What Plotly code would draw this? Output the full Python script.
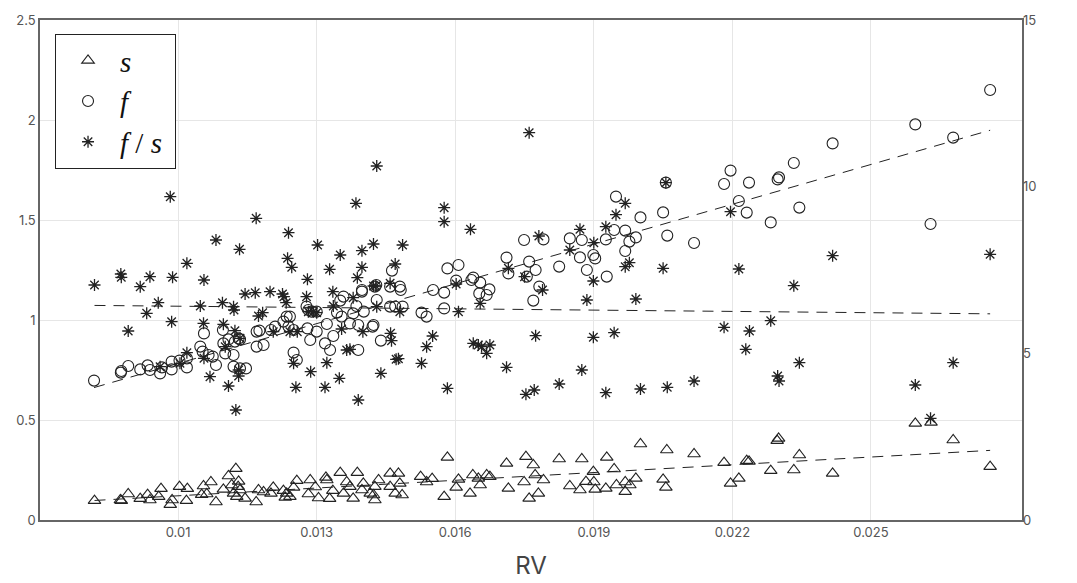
import numpy as np
import plotly.graph_objects as go

# ---- data ----
s_x = [0.00819,0.00875,0.00877,0.00892,0.00918,0.00934,0.00939,0.00958,0.00963,0.00983,0.00987,0.01003,0.0102,0.01018,
       0.01055,0.01071,0.01051,0.01062,0.01082,0.01098,0.01109,0.01125,0.01131,0.0112,0.01134,0.01127,0.01145,0.01116,0.0113,
       0.01169,0.01174,0.01185,0.01206,0.01201,0.01228,0.01235,0.01242,0.0125,0.01257,0.01232,
       0.01286,0.01282,0.01297,0.01304,0.0132,0.01322,0.01328,0.01335,0.01351,0.01358,0.01365,0.01372,0.01379,0.01388,
       0.01398,0.01401,0.01416,0.01426,0.01434,0.01423,0.01426,0.01459,0.01459,0.0147,0.01477,0.0148,0.01485,
       0.01525,0.01538,0.0155,0.01583,0.01576,0.01602,0.01607,0.01632,0.01638,0.0165,0.01654,0.01668,0.01675,
       0.01711,0.01715,0.01749,0.01753,0.01769,0.01773,0.01791,0.0176,0.0178,0.01825,0.01848,0.0187,0.01874,0.01883,
       0.01899,0.019,0.01903,0.01926,0.01928,0.01944,0.01949,0.01968,0.01968,0.01978,0.01991,0.02001,0.0205,0.02056,0.02058,
       0.02117,0.02182,0.02196,0.02214,0.02231,0.02236,0.02283,0.02297,0.023,0.02333,0.02345,0.02417,0.02596,0.0263,0.02678,0.02758]
s_y = [0.097,0.10,0.097,0.13,0.107,0.127,0.10,0.117,0.157,0.077,0.10,0.167,0.157,0.097,
       0.17,0.19,0.127,0.13,0.09,0.153,0.22,0.257,0.193,0.133,0.15,0.117,0.108,0.175,0.167,
       0.09,0.15,0.14,0.163,0.133,0.147,0.133,0.117,0.163,0.197,0.113,
       0.2,0.13,0.165,0.11,0.213,0.2,0.107,0.147,0.237,0.133,0.19,0.167,0.108,0.237,
       0.15,0.183,0.133,0.10,0.2,0.125,0.167,0.233,0.167,0.133,0.233,0.183,0.125,
       0.217,0.19,0.207,0.313,0.117,0.163,0.203,0.133,0.225,0.208,0.175,0.225,0.217,
       0.283,0.158,0.19,0.317,0.275,0.225,0.2,0.108,0.133,0.305,0.17,0.15,0.305,0.192,
       0.242,0.19,0.153,0.158,0.313,0.255,0.175,0.19,0.142,0.175,0.208,0.38,0.203,0.163,0.35,
       0.33,0.287,0.183,0.208,0.297,0.293,0.247,0.397,0.408,0.25,0.325,0.233,0.483,0.488,0.40,0.267]

f_x = [0.00818,0.00876,0.00877,0.00892,0.00918,0.00934,0.00939,0.00961,0.00965,0.00986,0.00986,0.01003,0.01019,0.01019,
       0.01048,0.01056,0.01053,0.01066,0.01075,0.01082,0.01097,0.01098,0.01102,0.01109,0.0112,0.01123,0.01131,0.01134,
       0.0112,0.01134,0.01147,0.0117,0.01176,0.0117,0.01185,0.01201,0.0121,0.01228,0.01235,0.01242,0.01239,0.0125,
       0.0125,0.01257,0.0128,0.01286,0.013,0.01322,0.01318,0.01329,0.01336,0.01344,0.01351,0.01278,0.01282,0.01289,0.013,
       0.01354,0.01358,0.01372,0.01379,0.01386,0.0139,0.01398,0.01398,0.01402,0.0139,0.01421,0.01423,0.0143,0.01429,0.01426,
       0.01439,0.01459,0.01463,0.01459,0.0147,0.0148,0.01482,0.01486,0.01527,0.01538,0.01552,0.01576,0.01576,0.01583,
       0.01607,0.01602,0.01635,0.01639,0.01654,0.01652,0.01668,0.01674,0.01711,0.01715,0.01749,0.0176,0.01755,0.01769,
       0.01774,0.01782,0.01791,0.01825,0.01848,0.01874,0.0187,0.01885,0.01899,0.01903,0.01926,0.01928,0.01948,0.01944,
       0.01968,0.01977,0.01968,0.01991,0.02001,0.0205,0.02056,0.02059,0.02117,0.02182,0.02196,0.02214,0.02236,0.02231,
       0.02283,0.02298,0.02301,0.02333,0.02345,0.02417,0.02596,0.02629,0.02678,0.02758]
f_y = [0.697,0.737,0.745,0.77,0.753,0.773,0.75,0.733,0.763,0.792,0.753,0.797,0.808,0.763,
       0.867,0.933,0.842,0.825,0.817,0.775,0.95,0.883,0.833,0.903,0.825,0.892,0.908,0.903,
       0.767,0.758,0.758,0.942,0.947,0.867,0.875,0.95,0.967,0.992,1.017,1.017,0.967,0.95,
       0.837,0.80,0.958,0.90,0.942,0.98,0.883,0.85,0.92,1.037,1.097,1.067,1.05,1.042,1.042,
       1.017,1.117,0.983,1.033,1.07,0.975,1.15,1.142,1.042,0.85,0.967,0.975,1.10,1.175,1.167,
       0.897,1.167,1.247,1.067,1.067,1.167,1.15,1.067,1.037,1.017,1.15,1.137,1.058,1.258,
       1.275,1.197,1.20,1.212,1.187,1.133,1.125,1.153,1.312,1.233,1.40,1.292,1.217,1.097,
       1.25,1.167,1.403,1.267,1.408,1.40,1.313,1.25,1.325,1.308,1.403,1.217,1.617,1.45,
       1.447,1.392,1.345,1.413,1.513,1.538,1.687,1.422,1.385,1.68,1.747,1.595,1.687,1.537,
       1.488,1.703,1.713,1.785,1.562,1.883,1.978,1.48,1.912,2.15]

fs_x = [0.00819,0.00876,0.00877,0.00918,0.00939,0.00932,0.00892,0.00957,0.00983,0.00988,0.00986,0.01019,0.01019,0.01004,
        0.00961,0.01048,0.01056,0.01055,0.01056,0.01069,0.01082,0.01096,0.01098,0.01102,0.01109,0.0112,0.01121,0.01123,
        0.01134,0.01133,0.01131,0.01131,0.01125,0.01145,0.01169,0.01167,0.01174,0.01183,0.01199,0.01206,0.01226,0.01229,
        0.01234,0.01237,0.01246,0.01239,0.01242,0.01258,0.0125,0.01255,0.0128,0.01278,0.01282,0.01293,0.013,0.01287,
        0.01302,0.01318,0.01322,0.01328,0.01335,0.01336,0.01349,0.01351,0.0143,0.01385,0.01398,0.01423,0.01486,0.01398,
        0.0147,0.01388,0.01423,0.01428,0.01459,0.01379,0.0143,0.0148,0.01354,0.014,0.0146,0.01462,0.01365,0.01372,
        0.01472,0.01477,0.01439,0.0139,0.01527,0.01538,0.01551,0.01583,0.01576,0.01576,0.01602,0.01607,0.01633,0.01654,
        0.01639,0.0165,0.01657,0.01675,0.01668,0.01715,0.0176,0.01711,0.0175,0.01781,0.01789,0.01753,0.01771,0.01774,
        0.01825,0.01848,0.0187,0.01885,0.019,0.01899,0.01899,0.01874,0.01926,0.01926,0.01968,0.01948,0.01968,0.01977,
        0.0205,0.02056,0.01991,0.01944,0.02001,0.02059,0.02117,0.02196,0.02214,0.02182,0.02237,0.02229,0.02283,0.02298,
        0.02301,0.02333,0.02345,0.02417,0.02596,0.02629,0.02678,0.02758]
fs_y = [7.05,7.38,7.28,7.0,7.3,6.2,5.67,6.52,9.7,7.28,5.95,7.7,5.02,4.7,
        4.6,6.42,7.2,5.9,4.85,4.3,8.4,6.52,5.87,5.2,4.02,6.4,6.3,5.68,
        5.45,8.12,4.5,4.32,3.3,6.78,9.05,6.82,6.12,6.22,6.85,5.65,6.78,6.7,
        6.52,7.85,7.58,8.62,5.65,5.65,4.7,3.98,7.22,6.7,6.25,6.25,6.22,4.45,
        8.25,3.98,4.72,7.52,6.85,6.42,4.25,7.95,10.62,9.5,8.08,8.28,8.25,7.58,
        7.68,7.27,7.02,7.02,7.1,6.67,6.4,6.25,5.73,5.65,5.6,5.38,5.1,5.12,
        4.82,4.84,4.4,3.6,4.7,5.2,5.52,3.95,9.37,8.95,7.08,6.25,8.72,6.5,
        5.3,5.25,5.2,5.25,5.0,7.55,11.62,4.58,7.3,8.52,6.9,3.77,3.9,5.53,
        4.08,8.1,8.72,6.6,8.32,7.17,5.48,4.5,8.8,3.82,9.5,9.16,7.6,7.72,
        7.55,10.12,6.63,5.62,3.93,3.98,4.17,9.25,7.53,5.78,5.67,5.12,5.98,4.32,
        4.17,7.03,4.72,7.93,4.05,3.05,4.72,7.97]

x_ticks = [0.01, 0.013, 0.016, 0.019, 0.022, 0.025]
x_tick_labels = ["0.01", "0.013", "0.016", "0.019", "0.022", "0.025"]
y_ticks = [0, 0.5, 1, 1.5, 2, 2.5]
y_tick_labels = ["0", "0.5", "1", "1.5", "2", "2.5"]
y2_ticks = [0, 5, 10, 15]

INK = "#222222"

def trend(xs, ys):
    xs = np.asarray(xs); ys = np.asarray(ys)
    k, b = np.polyfit(xs, ys, 1)
    xe = np.array([xs.min(), xs.max()])
    return xe, k * xe + b

fig = go.Figure()

dash = "11px,8px"
for xs, ys, axis in [(s_x, s_y, "y"), (f_x, f_y, "y"), (fs_x, fs_y, "y2")]:
    xe, ye = trend(xs, ys)
    fig.add_trace(go.Scatter(x=xe, y=ye, mode="lines", yaxis=axis, showlegend=False,
                             line=dict(color=INK, width=1, dash=dash), hoverinfo="skip"))

fig.add_trace(go.Scatter(x=s_x, y=s_y, mode="markers", name="<i>s</i>", legendgroup="s",
                         marker=dict(symbol="triangle-up-open", size=11, color=INK, line=dict(width=1.1))))
fig.add_trace(go.Scatter(x=f_x, y=f_y, mode="markers", name="<i>f</i>", legendgroup="f",
                         marker=dict(symbol="circle-open", size=11, color=INK, line=dict(width=1.1))))
fig.add_trace(go.Scatter(x=fs_x, y=fs_y, mode="markers", name="<i>f</i> / <i>s</i>&nbsp;", legendgroup="fs",
                         yaxis="y2",
                         marker=dict(symbol="asterisk-open", size=10, color=INK, line=dict(width=1.3))))

axis_font = dict(family="Inter, Roboto, sans-serif", size=13, color="#555555")

fig.update_layout(
    width=1077, height=583,
    margin=dict(l=40, r=55, t=20, b=63, autoexpand=False),
    paper_bgcolor="white", plot_bgcolor="white",
    showlegend=True,
    legend=dict(x=0.0153, y=0.972, xanchor="left", yanchor="top",
                bgcolor="white", bordercolor="#222222", borderwidth=1,
                font=dict(family="Liberation Serif, DejaVu Serif, serif", size=29, color="#111111"),
                tracegroupgap=0, itemwidth=54),
    xaxis=dict(range=[0.00701, 0.02827], tickvals=x_ticks, ticktext=x_tick_labels,
               showgrid=True, gridcolor="#e6e6e6", gridwidth=1, zeroline=False,
               showline=True, linecolor="#666666", linewidth=1.5, mirror=True,
               ticks="", tickfont=axis_font, automargin=False,
               title=dict(text="RV", font=dict(family="Inter, Roboto, sans-serif", size=24, color="#444444"),
                          standoff=18)),
    yaxis=dict(range=[0, 2.5], tickvals=y_ticks, ticktext=y_tick_labels,
               showgrid=True, gridcolor="#e6e6e6", gridwidth=1, zeroline=False,
               showline=True, linecolor="#666666", linewidth=1.5, mirror=True,
               ticks="", tickfont=axis_font, automargin=False),
    yaxis2=dict(range=[0, 15], tickvals=y2_ticks, overlaying="y", side="right",
                showgrid=False, zeroline=False, showline=False, ticks="", tickfont=axis_font,
                automargin=False),
)

fig.write_html("out.html", config={"displayModeBar": False},
               post_script="document.body.style.margin='0';document.body.style.overflow='hidden';")
